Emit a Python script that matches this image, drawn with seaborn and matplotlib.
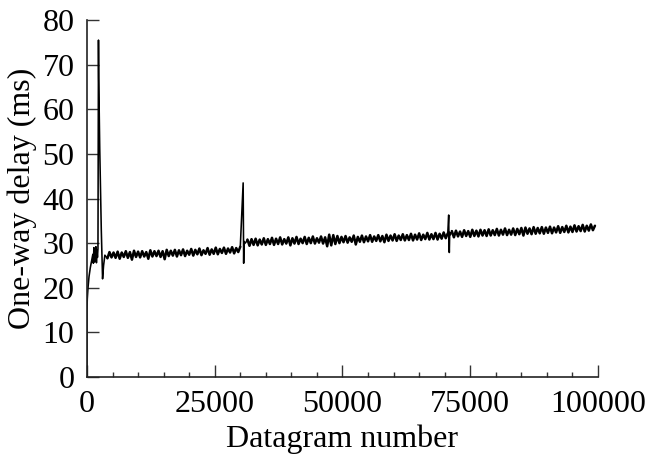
import numpy as np
import pandas as pd
import matplotlib
matplotlib.use("Agg")
import matplotlib.pyplot as plt
from matplotlib.ticker import MultipleLocator
import seaborn as sns

# Start-up: queue fills, delay climbs, first burst and its decay
start_x = [0, 0, 60, 200, 400, 650, 900, 1150, 1250, 1350, 1450, 1550, 1650, 1750, 1850,
           1950, 2050, 2150, 2250, 2300, 2400, 2500, 2650, 2800, 3050, 3250, 3500]
start_y = [0.0, 15.0, 17.5, 20.0, 22.5, 24.5, 26.0, 27.5, 25.5, 29.0, 25.8, 28.6, 26.2, 29.2, 25.6,
           28.4, 26.8, 28.8, 75.5, 67.0, 59.0, 51.0, 42.0, 33.0, 22.0, 25.0, 27.3]

step = 400

# Steady phase 1 (sampled every 400 datagrams from 4000)
seg1_start = 4000
seg1_y = [26.6, 28.0, 26.8, 27.9, 26.7, 28.1, 26.5, 27.9, 26.9, 28.2,
          26.7, 28.0, 26.3, 28.3, 26.9, 28.1, 26.8, 28.2, 27.0, 28.0,
          26.5, 28.4, 27.0, 28.2, 27.1, 28.3, 26.9, 28.2, 26.4, 28.5,
          27.1, 28.3, 27.2, 28.5, 27.0, 28.4, 27.3, 28.6, 27.1, 28.3,
          27.4, 28.7, 27.2, 28.5, 27.5, 28.8, 27.3, 28.4, 27.6, 28.9,
          27.4, 28.6, 27.6, 29.0, 27.5, 28.7, 27.8, 29.0, 27.6, 28.8,
          27.9, 29.1, 27.7, 28.9, 28.0, 29.2]

# Second burst
burst2_x = [30560, 30600, 30660, 30720, 30850, 31100]
burst2_y = [43.5, 36.0, 25.5, 30.4, 29.9, 30.2]

# Steady phase 2 (sampled every 400 datagrams from 31400)
seg2_start = 31400
seg2_y = [30.8, 29.4, 30.9, 29.6, 31.0, 29.5, 30.8, 29.7, 31.1, 29.6,
          30.9, 29.8, 31.2, 29.6, 31.0, 29.8, 31.3, 29.7, 30.9, 29.9,
          31.3, 29.5, 31.1, 29.9, 31.4, 29.8, 31.0, 30.0, 31.4, 29.8,
          31.2, 30.0, 31.5, 29.9, 31.1, 30.1, 31.5, 29.9, 31.3, 29.3,
          31.9, 29.5, 31.8, 29.8, 31.6, 30.0, 31.4, 30.2, 31.6, 30.1,
          31.3, 30.3, 31.7, 29.7, 31.4, 30.3, 31.7, 30.2, 31.5, 30.4,
          31.8, 30.3, 31.5, 30.5, 31.8, 30.4, 31.6, 30.2, 31.9, 30.5,
          31.7, 30.6, 32.0, 30.5, 31.7, 30.7, 32.0, 30.6, 31.8, 30.7,
          32.1, 30.6, 31.9, 30.8, 32.2, 30.7, 31.9, 30.9, 32.3, 30.8,
          32.0, 30.9, 32.3, 30.8, 32.1, 31.0, 32.4, 31.1, 32.2]

# Third burst
burst3_x = [70780, 70830, 70900, 70980, 71150]
burst3_y = [36.3, 31.0, 27.9, 32.4, 31.9]

# Steady phase 3 (sampled every 400 datagrams from 71400)
seg3_start = 71400
seg3_y = [32.7, 31.3, 32.8, 31.5, 32.6, 31.4, 32.9, 31.6, 32.7, 31.4,
          33.0, 31.6, 32.8, 31.5, 33.0, 31.7, 32.9, 31.6, 33.1, 31.7,
          32.9, 31.8, 33.2, 31.7, 33.0, 31.9, 33.3, 31.8, 33.0, 31.9,
          33.3, 31.8, 33.2, 32.0, 33.4, 31.7, 33.5, 32.1, 33.3, 32.0,
          33.6, 32.1, 33.4, 32.2, 33.6, 32.1, 33.5, 32.3, 33.7, 32.2,
          33.5, 32.4, 33.8, 32.3, 33.6, 32.5, 33.9, 32.4, 33.7, 32.5,
          34.0, 32.6, 33.8, 32.7, 34.1, 32.6, 33.9, 32.8, 34.2, 32.9,
          33.9]


def steady(start, values):
    return list(start + step * np.arange(len(values))), list(values)


s1x, s1y = steady(seg1_start, seg1_y)
s2x, s2y = steady(seg2_start, seg2_y)
s3x, s3y = steady(seg3_start, seg3_y)

# Transient pieces share their end points with the neighbouring steady runs
pieces = [
    ("start", "burst", start_x + s1x[:1], start_y + s1y[:1]),
    ("run1", "steady", s1x, s1y),
    ("burst2", "burst", s1x[-1:] + burst2_x + s2x[:1], s1y[-1:] + burst2_y + s2y[:1]),
    ("run2", "steady", s2x, s2y),
    ("burst3", "burst", s2x[-1:] + burst3_x + s3x[:1], s2y[-1:] + burst3_y + s3y[:1]),
    ("run3", "steady", s3x, s3y),
]
df = pd.concat(
    [pd.DataFrame({"datagram": px, "delay": py, "piece": name, "kind": kind})
     for name, kind, px, py in pieces],
    ignore_index=True,
)

sns.set_style("ticks")
plt.rcParams["font.family"] = ["Liberation Serif", "DejaVu Serif"]
plt.rcParams["text.color"] = "black"
plt.rcParams["axes.labelcolor"] = "black"
plt.rcParams["xtick.color"] = "black"
plt.rcParams["ytick.color"] = "black"
plt.rcParams["xtick.direction"] = "in"
plt.rcParams["ytick.direction"] = "in"

fig = plt.figure(figsize=(6.53, 4.55), dpi=100)
ax = fig.add_axes([0.1332, 0.1714, 0.7826, 0.7846])

sns.lineplot(data=df, x="datagram", y="delay", units="piece", size="kind",
             sizes={"steady": 1.8, "burst": 1.15}, ax=ax, color="black",
             sort=False, estimator=None, legend=False)

ax.set_xlim(0, 100000)
ax.set_ylim(0, 80)
ax.xaxis.set_major_locator(MultipleLocator(25000))
ax.xaxis.set_minor_locator(MultipleLocator(5000))
ax.yaxis.set_major_locator(MultipleLocator(10))
ax.tick_params(axis="both", which="major", length=8.5, width=1.0, color="#333333",
               labelcolor="black", labelsize=23, pad=9)
ax.tick_params(axis="x", which="minor", length=3.5, width=1.0, color="#333333")
for side in ("left", "bottom"):
    ax.spines[side].set_linewidth(1.2)
    ax.spines[side].set_color("#222222")
sns.despine(ax=ax)

ax.set_xlabel("Datagram number", fontsize=23, labelpad=4, color="black")
ax.set_ylabel("One-way delay (ms)", fontsize=23, labelpad=4, color="black")

fig.savefig("out.png", dpi=100)
